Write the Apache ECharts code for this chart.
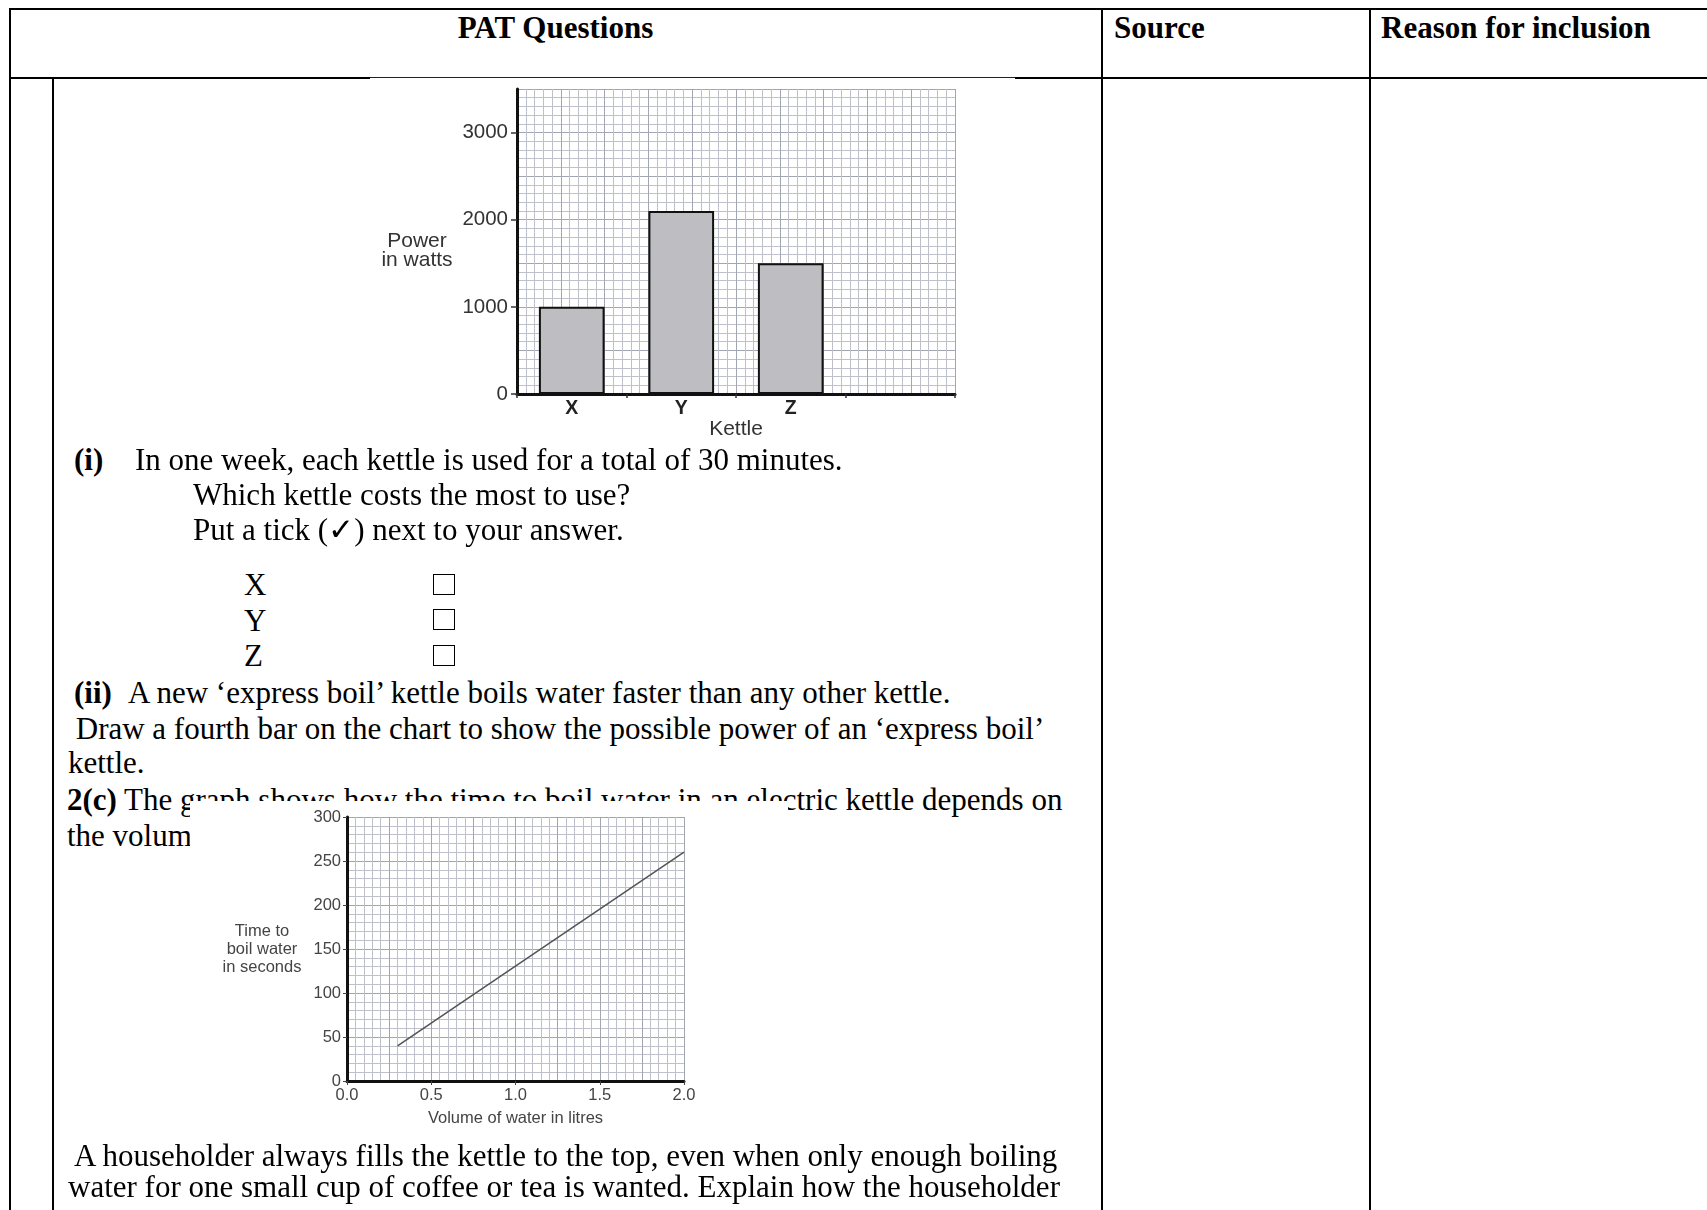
<!DOCTYPE html>
<html lang="en">
<head>
<meta charset="utf-8">
<title>PAT Questions</title>
<script src="https://cdn.jsdelivr.net/npm/echarts@6/dist/echarts.min.js"></script>
<style>
  html, body { margin: 0; padding: 0; background: #fff; }
  #page {
    position: relative; width: 1707px; height: 1210px; overflow: hidden;
    font-family: "Liberation Serif", "Times New Roman", serif;
    font-size: 31px; color: #000; background: #fff;
  }
  .ln { position: absolute; white-space: pre; line-height: 36px; }
  .rule { position: absolute; background: #000; }
  .chart { position: absolute; background: #fff; filter: blur(0.45px); }
  .box { position: absolute; width: 22px; height: 21px; border: 1.5px solid #000; box-sizing: border-box; }
</style>
</head>
<body>
<div id="page">
  <!-- table rules -->
  <div class="rule" style="left:9px;top:8px;width:1698px;height:2px"></div>
  <div class="rule" style="left:9px;top:8px;width:2px;height:1202px"></div>
  <div class="rule" style="left:1101px;top:8px;width:2px;height:1202px"></div>
  <div class="rule" style="left:1369px;top:8px;width:2px;height:1202px"></div>
  <div class="rule" style="left:9px;top:77px;width:361px;height:2px"></div>
  <div class="rule" style="left:370px;top:77px;width:645px;height:1px;background:#222"></div>
  <div class="rule" style="left:1015px;top:77px;width:692px;height:2px"></div>
  <div class="rule" style="left:52px;top:77px;width:2px;height:1133px"></div>

  <!-- header row -->
  <div class="ln" style="left:10px;width:1091px;text-align:center;top:10px;font-weight:bold">PAT Questions</div>
  <div class="ln" style="left:1114px;top:10px;font-weight:bold">Source</div>
  <div class="ln" style="left:1381px;top:10px;font-weight:bold">Reason for inclusion</div>

  <!-- kettle power chart -->
  <div id="barChart" class="chart" style="left:370px;top:79px;width:645px;height:367px"></div>

  <!-- question (i) -->
  <div class="ln" style="left:74px;top:442px;font-weight:bold">(i)</div>
  <div class="ln" style="left:135px;top:442px">In one week, each kettle is used for a total of 30 minutes.</div>
  <div class="ln" style="left:193px;top:477px">Which kettle costs the most to use?</div>
  <div class="ln" style="left:193px;top:512px">Put a tick (✓) next to your answer.</div>
  <div class="ln" style="left:244px;top:567px">X</div>
  <div class="ln" style="left:244px;top:603px">Y</div>
  <div class="ln" style="left:244px;top:638px">Z</div>
  <div class="box" style="left:433px;top:574px"></div>
  <div class="box" style="left:433px;top:609px"></div>
  <div class="box" style="left:433px;top:645px"></div>

  <!-- question (ii) -->
  <div class="ln" style="left:74px;top:675px;font-weight:bold">(ii)</div>
  <div class="ln" style="left:128px;top:675px">A new ‘express boil’ kettle boils water faster than any other kettle.</div>
  <div class="ln" style="left:68px;top:711px"> Draw a fourth bar on the chart to show the possible power of an ‘express boil’</div>
  <div class="ln" style="left:68px;top:745px">kettle.</div>

  <!-- question 2(c) -->
  <div class="ln" style="left:67px;top:782px"><b>2(c)</b> The graph shows how the time to boil water in an electric kettle depends on</div>
  <div class="ln" style="left:67px;top:818px">the volume of water in the kettle.</div>

  <!-- boiling time chart -->
  <div id="lineChart" class="chart" style="left:190px;top:801px;width:598px;height:337px"></div>

  <div class="ln" style="left:68px;top:1138px"> A householder always fills the kettle to the top, even when only enough boiling</div>
  <div class="ln" style="left:68px;top:1169px">water for one small cup of coffee or tea is wanted. Explain how the householder</div>
</div>

<script>
// Kettle power (bar chart); the empty fourth slot is left for the answer
const kettles = ['X', 'Y', 'Z', ''];
const powerWatts = [1000, 2100, 1500, null];
const powerTicks = [0, 1000, 2000, 3000];

// Time to boil against volume of water (line chart)
const volumeLitres = [0.3, 2.0];
const boilSeconds = [40, 260];
const volumeTicks = [0, 0.5, 1, 1.5, 2];
const secondTicks = [0, 50, 100, 150, 200, 250, 300];

const sans = 'Liberation Sans, Arial, sans-serif';
const paperMinor = '#bec1cb';
const paperMajor = '#a2a6b3';

// invisible value axis that only draws graph-paper lines
function paperAxis(cells, majorEvery) {
  return {
    type: 'value', min: 0, max: cells, interval: majorEvery, z: 0,
    axisLine: { show: false }, axisTick: { show: false }, axisLabel: { show: false },
    splitLine: { show: true, lineStyle: { color: paperMajor, width: 1 } },
    minorTick: { show: false, splitNumber: majorEvery },
    minorSplitLine: { show: true, lineStyle: { color: paperMinor, width: 1 } }
  };
}

const barChart = echarts.init(document.getElementById('barChart'));
barChart.setOption({
  animation: false,
  grid: { left: 147, top: 10, width: 438, height: 305, containLabel: false, outerBoundsMode: 'none' },
  xAxis: [
    {
      type: 'category', data: kettles, z: 3,
      axisLine: { show: true, lineStyle: { color: '#111', width: 3 } },
      axisTick: { show: true, length: 4, lineStyle: { color: '#333', width: 1.5 } },
      axisLabel: { color: '#222', fontFamily: sans, fontWeight: 'bold', fontSize: 19.5, margin: 5 },
      splitLine: { show: false },
      name: 'Kettle', nameLocation: 'middle', nameGap: 25, nameMoveOverlap: false,
      nameTextStyle: { color: '#333', fontFamily: sans, fontSize: 21 }
    },
    paperAxis(50, 5)
  ],
  yAxis: [
    {
      type: 'value', min: 0, max: 3500, z: 3,
      axisLine: { show: true, lineStyle: { color: '#111', width: 3 } },
      axisTick: { show: true, length: 6, customValues: powerTicks, lineStyle: { color: '#333', width: 1.5 } },
      axisLabel: { customValues: powerTicks, color: '#333', fontFamily: sans, fontSize: 20.5, margin: 9,
                   formatter: v => String(v) },
      splitLine: { show: false },
      // leading blank line drops the two-line title just below the axis midpoint
      name: '\nPower\nin watts', nameLocation: 'middle', nameRotate: 0, nameGap: 100, nameMoveOverlap: false,
      nameTextStyle: { align: 'center', verticalAlign: 'middle', color: '#333', fontFamily: sans, fontSize: 21, lineHeight: 19 }
    },
    paperAxis(35, 5)
  ],
  series: [{
    type: 'bar', data: powerWatts, xAxisIndex: 0, yAxisIndex: 0, barWidth: '60%', z: 2,
    itemStyle: { color: '#bdbdc2', borderColor: '#111', borderWidth: 2 }
  }]
});

const lineChart = echarts.init(document.getElementById('lineChart'));
lineChart.setOption({
  animation: false,
  grid: { left: 157, top: 16, width: 337, height: 264, containLabel: false, outerBoundsMode: 'none' },
  xAxis: [
    {
      type: 'value', min: 0, max: 2, z: 3,
      axisLine: { show: true, onZero: false, lineStyle: { color: '#111', width: 3 } },
      axisTick: { show: true, length: 4, customValues: volumeTicks, lineStyle: { color: '#444' } },
      axisLabel: { customValues: volumeTicks, color: '#444', fontFamily: sans, fontSize: 16.5, margin: 6,
                   formatter: v => v.toFixed(1) },
      splitLine: { show: false },
      name: 'Volume of water in litres', nameLocation: 'middle', nameGap: 29, nameMoveOverlap: false,
      nameTextStyle: { color: '#444', fontFamily: sans, fontSize: 16.5 }
    },
    paperAxis(40, 5)
  ],
  yAxis: [
    {
      type: 'value', min: 0, max: 300, z: 3,
      axisLine: { show: true, onZero: false, lineStyle: { color: '#111', width: 3 } },
      axisTick: { show: true, length: 4, customValues: secondTicks, lineStyle: { color: '#444' } },
      axisLabel: { customValues: secondTicks, color: '#444', fontFamily: sans, fontSize: 16.5, margin: 6 },
      splitLine: { show: false },
      name: 'Time to\nboil water\nin seconds', nameLocation: 'middle', nameRotate: 0, nameGap: 85, nameMoveOverlap: false,
      nameTextStyle: { align: 'center', color: '#444', fontFamily: sans, fontSize: 16.5, lineHeight: 18 }
    },
    paperAxis(30, 5)
  ],
  series: [{
    type: 'line', xAxisIndex: 0, yAxisIndex: 0, z: 2, symbol: 'none',
    data: volumeLitres.map((v, i) => [v, boilSeconds[i]]),
    lineStyle: { color: '#555', width: 1.6 }
  }]
});
</script>
</body>
</html>
